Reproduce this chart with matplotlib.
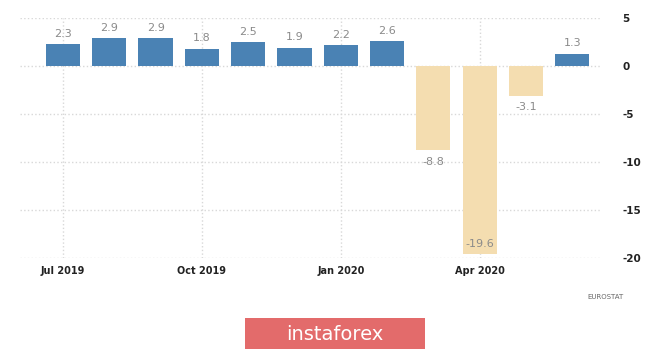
import matplotlib.pyplot as plt
from matplotlib.patches import Rectangle

months = ["Jul 2019", "Aug 2019", "Sep 2019", "Oct 2019", "Nov 2019", "Dec 2019",
          "Jan 2020", "Feb 2020", "Mar 2020", "Apr 2020", "May 2020", "Jun 2020"]
values = [2.3, 2.9, 2.9, 1.8, 2.5, 1.9, 2.2, 2.6, -8.8, -19.6, -3.1, 1.3]
tick_months = ["Jul 2019", "Oct 2019", "Jan 2020", "Apr 2020"]
y_ticks = [5, 0, -5, -10, -15, -20]

W, H = 665, 349
fig = plt.figure(figsize=(W / 100, H / 100), dpi=100)
fig.patch.set_facecolor("white")

ax = fig.add_axes([20 / W, 1 - 258 / H, 580 / W, 240 / H])
x = list(range(len(values)))
colors = ["#4a82b4" if v >= 0 else "#f4ddb0" for v in values]
ax.bar(x, values, width=0.74, color=colors, zorder=2)

ax.set_ylim(-20, 5)
ax.set_xlim(-0.93, 11.6)

for i, v in enumerate(values):
    if v >= 0:
        ax.text(i, v + 0.55, f"{v}", ha="center", va="bottom", color="#8a8a8a", fontsize=8)
    elif v < -18:
        ax.text(i, v + 0.5, f"{v}", ha="center", va="bottom", color="#8a8a8a", fontsize=8)
    else:
        ax.text(i, v - 0.7, f"{v}", ha="center", va="top", color="#8a8a8a", fontsize=8)

ax.set_xticks([months.index(m) for m in tick_months])
ax.set_xticklabels(tick_months, fontsize=7, color="#222222", fontweight="bold")
ax.set_yticks(y_ticks)
ax.set_yticklabels([str(t) for t in y_ticks], fontsize=7.5, color="#222222",
                   fontweight="bold")
ax.yaxis.tick_right()
ax.tick_params(axis="both", length=0, pad=6)
ax.tick_params(axis="y", pad=16)

ax.grid(True, color="#d8d8d8", linestyle=":", linewidth=1, zorder=0)
for s in ax.spines.values():
    s.set_visible(False)

fig.text(605 / W, 1 - 297 / H, "EUROSTAT", ha="center", va="center",
         fontsize=5, color="#666666")

# instaforex banner
fig.patches.append(Rectangle((245 / W, 0), 180 / W, 31 / H, transform=fig.transFigure,
                             facecolor="#e36b6b", edgecolor="none"))
fig.text(335 / W, 14 / H, "instaforex", ha="center", va="center",
         fontsize=14, color="white")

fig.savefig("out.png", dpi=100)
